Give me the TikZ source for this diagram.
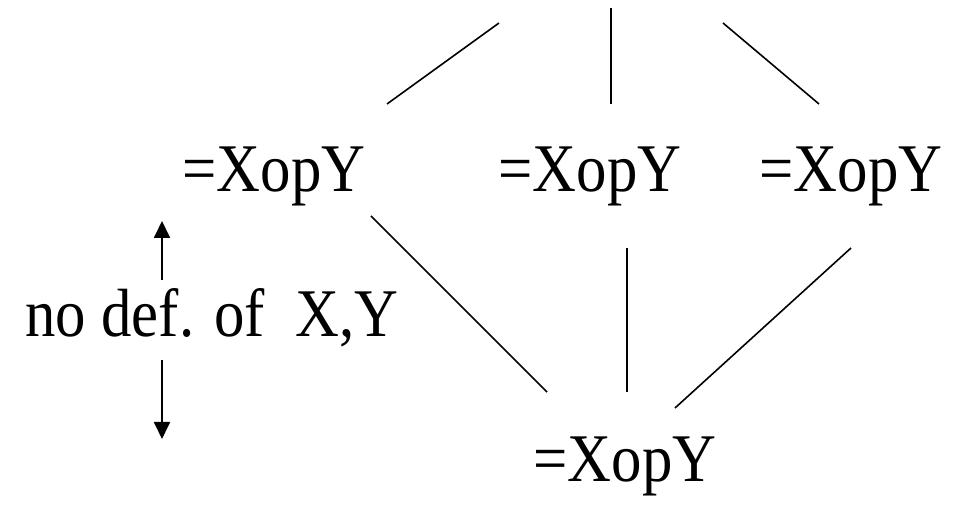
\documentclass[tikz,border=0pt]{standalone}
\usepackage{fontspec}
\setmainfont{Liberation Serif}
\usetikzlibrary{arrows.meta}
\newcommand{\tall}[1]{\scalebox{0.98}[1.1]{#1}}

\begin{document}
\begin{tikzpicture}[
        x=1pt, y=-1pt,
        every node/.style={
            inner sep=0pt,
            anchor=base,
            font=\fontsize{62}{70}\selectfont
        },
        edge/.style={line width=1.6pt},
        pointer/.style={line width=1.8pt, -{Triangle[width=16pt,length=17pt]}}
    ]
    \useasboundingbox (0,0) rectangle (954,510);
    % the expressions
    \node (left)   at (274,192) {\tall{=XopY}};
    \node (middle) at (590,192) {\tall{=XopY}};
    \node (right)  at (851,192) {\tall{=XopY}};
    \node (bottom) at (625,482) {\tall{=XopY}};
    \node (nodef)  at (212,337) {\tall{no def. of\ \ X,Y}};
    % free ends of the lines
    \coordinate (lt) at (499,23);
    \coordinate (lb) at (387,104);
    \coordinate (mt) at (611,8);
    \coordinate (mb) at (611,104);
    \coordinate (rt) at (723,23);
    \coordinate (rb) at (819,104);
    \coordinate (l1) at (371,216);
    \coordinate (l2) at (547,392);
    \coordinate (m1) at (627,248);
    \coordinate (m2) at (627,392);
    \coordinate (r1) at (851,248);
    \coordinate (r2) at (675,408);
    \coordinate (up1) at (162,280);
    \coordinate (up2) at (162,221);
    \coordinate (dn1) at (162,360);
    \coordinate (dn2) at (162,439);
    \draw[edge] (lb) -- (lt);
    \draw[edge] (mb) -- (mt);
    \draw[edge] (rb) -- (rt);
    \draw[edge] (l1) -- (l2);
    \draw[edge] (m1) -- (m2);
    \draw[edge] (r1) -- (r2);
    \draw[pointer] (up1) -- (up2);
    \draw[pointer] (dn1) -- (dn2);
\end{tikzpicture}
\end{document}
